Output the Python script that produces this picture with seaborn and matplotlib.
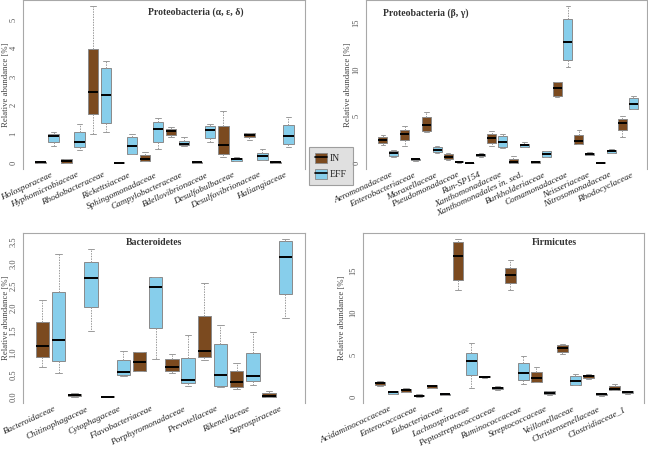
import matplotlib
matplotlib.use("Agg")
import matplotlib.pyplot as plt
import matplotlib.transforms as mtransforms
import seaborn as sns
import pandas as pd
from matplotlib.patches import Patch
from matplotlib.lines import Line2D
from matplotlib.legend_handler import HandlerTuple

# each box: [min, q1, median, q3, max]
alpha_fams = ["Holosporaceae", "Hyphomicrobiaceae", "Rhodobacteraceae", "Rickettsiaceae",
              "Sphingomonadaceae", "Campylobacteraceae", "Bdellovibrionaceae",
              "Desulfobulbaceae", "Desulfovibrionaceae", "Haliangiaceae"]
alpha_in = [[0, 0, 0.01, 0.03, 0.07], [0, 0, 0.06, 0.13, 0.14], [0.99, 1.71, 2.46, 3.97, 5.46],
            [0, 0, 0, 0.01, 0.02], [0.06, 0.07, 0.13, 0.26, 0.37], [0.9, 0.97, 1.1, 1.19, 1.26],
            [0, 0, 0.01, 0.02, 0.04], [0.21, 0.3, 0.61, 1.28, 1.79], [0.78, 0.9, 0.97, 1.03, 1.05],
            [0, 0, 0.01, 0.02, 0.05]]
alpha_eff = [[0.57, 0.73, 0.92, 1.0, 1.08], [0.43, 0.54, 0.73, 1.08, 1.36], [1.08, 1.4, 2.38, 3.3, 3.54],
             [0.29, 0.31, 0.57, 0.91, 1.01], [0.48, 0.73, 1.18, 1.43, 1.55], [0.6, 0.62, 0.64, 0.75, 0.89],
             [0.73, 0.86, 1.13, 1.29, 1.35], [0.05, 0.06, 0.12, 0.17, 0.19], [0.08, 0.09, 0.22, 0.35, 0.49],
             [0.56, 0.66, 0.93, 1.32, 1.58]]

beta_fams = ["Aeromonadaceae", "Enterobacteriaceae", "Moraxellaceae", "Pseudomonadaceae",
             "Run-SP154", "Xanthomonadaceae", "Xanthomonadales in. sed.", "Burkholderiaceae",
             "Comamonadaceae", "Neisseriaceae", "Nitrosomonadaceae", "Rhodocyclaceae"]
beta_in = [[1.93, 2.11, 2.4, 2.71, 3.0], [1.79, 2.39, 3.07, 3.46, 3.93], [3.29, 3.36, 4.04, 4.93, 5.46],
           [0.29, 0.39, 0.64, 0.89, 1.04], [0, 0, 0.01, 0.02, 0.04], [1.82, 2.14, 2.64, 3.04, 3.43],
           [0, 0, 0.05, 0.36, 0.71], [0, 0.02, 0.11, 0.16, 0.21], [7.07, 7.14, 7.96, 8.64, 8.68],
           [2.0, 2.04, 2.32, 3.0, 3.54], [0, 0, 0.01, 0.03, 0.07], [2.79, 3.46, 4.29, 4.71, 5.04]]
beta_eff = [[0.61, 0.68, 1.0, 1.29, 1.36], [0.18, 0.25, 0.36, 0.43, 0.5], [1.0, 1.14, 1.39, 1.64, 1.75],
            [0, 0.04, 0.11, 0.18, 0.21], [0.64, 0.68, 0.79, 0.93, 1.0], [1.54, 1.68, 2.25, 2.89, 3.04],
            [1.68, 1.71, 1.86, 2.04, 2.25], [0.61, 0.64, 0.93, 1.21, 1.29], [10.29, 11.0, 12.93, 15.43, 16.75],
            [0.82, 0.86, 0.96, 1.07, 1.14], [1.04, 1.07, 1.21, 1.39, 1.46], [5.71, 5.79, 6.32, 6.96, 7.14]]

bact_fams = ["Bacteroidaceae", "Chitinophagaceae", "Cytophagaceae", "Flavobacteriaceae",
             "Porphyromonadaceae", "Prevotellaceae", "Rikenellaceae", "Saprospiraceae"]
bact_in = [[0.68, 0.89, 1.14, 1.69, 2.19], [0, 0.01, 0.04, 0.06, 0.08], [0, 0, 0, 0.01, 0.01],
           [0.58, 0.58, 0.78, 1.0, 1.01], [0.53, 0.58, 0.68, 0.85, 0.97], [0.82, 0.9, 1.03, 1.82, 2.56],
           [0.18, 0.22, 0.34, 0.58, 0.75], [0, 0, 0.02, 0.08, 0.13]]
bact_eff = [[0.54, 0.8, 1.28, 2.36, 3.22], [1.49, 2.02, 2.68, 3.04, 3.32], [0.46, 0.5, 0.56, 0.82, 1.02],
            [0.86, 1.56, 2.47, 2.7, 2.71], [0.25, 0.3, 0.38, 0.88, 1.4], [0.22, 0.24, 0.5, 1.18, 1.61],
            [0.27, 0.36, 0.47, 0.98, 1.47], [1.78, 2.31, 3.14, 3.51, 3.55]]

firm_fams = ["Acidaminococcaceae", "Enterococcaceae", "Eubacteriaceae", "Lachnospiraceae",
             "Peptostreptococcaceae", "Ruminococcaceae", "Streptococcaceae", "Veillonellaceae",
             "Christensenellaceae", "Clostridiaceae_1"]
firm_in = [[1.33, 1.41, 1.65, 1.85, 1.93], [0.6, 0.64, 0.8, 0.96, 1.04], [1.08, 1.12, 1.29, 1.45, 1.49],
           [12.75, 14.0, 16.85, 18.5, 18.8], [2.29, 2.33, 2.41, 2.49, 2.53], [12.75, 13.6, 14.55, 15.4, 16.3],
           [1.77, 1.85, 2.29, 2.97, 3.57], [5.14, 5.38, 5.82, 6.22, 6.3], [2.17, 2.29, 2.49, 2.65, 2.73],
           [0.84, 0.88, 0.96, 1.33, 1.61]]
firm_eff = [[0.36, 0.4, 0.56, 0.68, 0.76], [0.04, 0.08, 0.16, 0.24, 0.32], [0.2, 0.24, 0.32, 0.4, 0.44],
            [1.04, 2.65, 4.3, 5.3, 6.43], [0.84, 0.92, 1.12, 1.24, 1.33], [1.53, 2.0, 2.85, 4.0, 4.9],
            [0.24, 0.32, 0.52, 0.68, 0.76], [1.41, 1.45, 1.93, 2.49, 2.77], [0.12, 0.2, 0.32, 0.4, 0.44],
            [0.36, 0.44, 0.56, 0.68, 0.72]]

BROWN = "#7b4a1f"
BLUE = "#87ceeb"
GRAY = "#9a9a9a"

sns.set_style("white")
plt.rcParams["font.family"] = ["Liberation Serif", "DejaVu Serif"]


def long_df(fams, vin, veff):
    rows = []
    for f, a, b in zip(fams, vin, veff):
        rows += [(f, "IN", v) for v in a]
        rows += [(f, "EFF", v) for v in b]
    return pd.DataFrame(rows, columns=["family", "group", "value"])


fig = plt.figure(figsize=(6.48, 4.49), dpi=100)
W, H = 648, 449

# panel: fams, in, eff, title, title xy, title ha, px box (l, r, top, bottom), xlim, yticks, fmt, ylabel x px
panels = [
    (alpha_fams, alpha_in, alpha_eff, "Proteobacteria (α, ε, δ)", (0.613, 0.925), "center",
     (23, 305, 0, 169), (-0.93, 9.89), [0, 1, 2, 3, 4, 5], "{:.0f}", 10),
    (beta_fams, beta_in, beta_eff, "Proteobacteria (β, γ)", (0.06, 0.92), "left",
     (366, 647, 0, 169), (-1.02, 11.88), [0, 5, 10, 15], "{:.0f}", 352),
    (bact_fams, bact_in, bact_eff, "Bacteroidetes", (0.463, 0.945), "center",
     (23, 305, 233, 403), (-0.85, 7.86), [0, 0.5, 1, 1.5, 2, 2.5, 3, 3.5], "{:.1f}", 10),
    (firm_fams, firm_in, firm_eff, "Firmicutes", (0.68, 0.945), "center",
     (363, 644, 233, 403), (-0.90, 9.88), [0, 5, 10, 15], "{:.0f}", 346),
]

for fams, vin, veff, title, txy, tha, (l, r, t, b), xlim, yt, fmt, ylx in panels:
    ax = fig.add_axes([l / W, 1 - b / H, (r - l) / W, (b - t) / H])
    df = long_df(fams, vin, veff)
    sns.boxplot(data=df, x="family", y="value", hue="group", order=fams,
                hue_order=["IN", "EFF"], palette={"IN": BROWN, "EFF": BLUE},
                saturation=1, width=1.0, gap=0.18, whis=(0, 100), showfliers=False,
                linecolor="#8a8a8a", linewidth=0.7,
                medianprops=dict(color="black", linewidth=1.4),
                whiskerprops=dict(color=GRAY, linestyle=(0, (1.5, 1.2)), linewidth=0.7),
                capprops=dict(color=GRAY, linewidth=0.7),
                legend=False, ax=ax)
    lo, hi = df["value"].min(), df["value"].max()
    pad = 0.04 * (hi - lo)
    ax.set_ylim(lo - pad, hi + pad)
    ax.set_xlim(*xlim)
    ax.set_xlabel("")
    ax.set_ylabel("Relative abundance [%]", fontsize=6.3, color="#444444")
    ax.yaxis.set_label_coords((ylx - l) / (r - l), 0.5)
    ax.set_yticks(yt)
    ax.set_yticklabels([fmt.format(v) for v in yt], rotation=90, va="center",
                       fontsize=6, color="#555555")
    ax.tick_params(axis="y", length=3, width=0.6, color="#777777", pad=1)
    # family names as rotated text under each IN/EFF pair
    ax.set_xticks([])
    lab_tr = mtransforms.blended_transform_factory(ax.transData, ax.transAxes) + \
        mtransforms.ScaledTranslation(3 / 100, -2 / 100, fig.dpi_scale_trans)
    for i, fam in enumerate(fams):
        ax.text(i, 0, fam, transform=lab_tr, rotation=25, ha="right", va="top",
                rotation_mode="anchor", style="italic", fontsize=6.6, color="#222222")
    for side in ["left", "top", "right"]:
        ax.spines[side].set_color("#a8a8a8")
        ax.spines[side].set_linewidth(0.8)
    ax.spines["bottom"].set_visible(False)
    ax.text(txy[0], txy[1], title, transform=ax.transAxes, ha=tha, va="center",
            fontsize=7, fontweight="bold", color="#333333")

handles = [
    (Patch(facecolor=BROWN, edgecolor="#8a8a8a", linewidth=0.6), Line2D([], [], color="black", lw=1.2)),
    (Patch(facecolor=BLUE, edgecolor="#8a8a8a", linewidth=0.6), Line2D([], [], color="black", lw=1.2)),
]
leg = fig.legend(handles, ["IN", "EFF"], handler_map={tuple: HandlerTuple(ndivide=1)},
                 loc="center", bbox_to_anchor=(331 / W, 1 - 166 / H), fontsize=7,
                 frameon=True, fancybox=False, facecolor="#d9d9d9", edgecolor="#8a8a8a",
                 handlelength=1.2, handleheight=1.2, labelspacing=0.6, borderpad=0.6,
                 handletextpad=0.3)
leg.get_frame().set_linewidth(0.8)

fig.savefig("out.png", dpi=100)
